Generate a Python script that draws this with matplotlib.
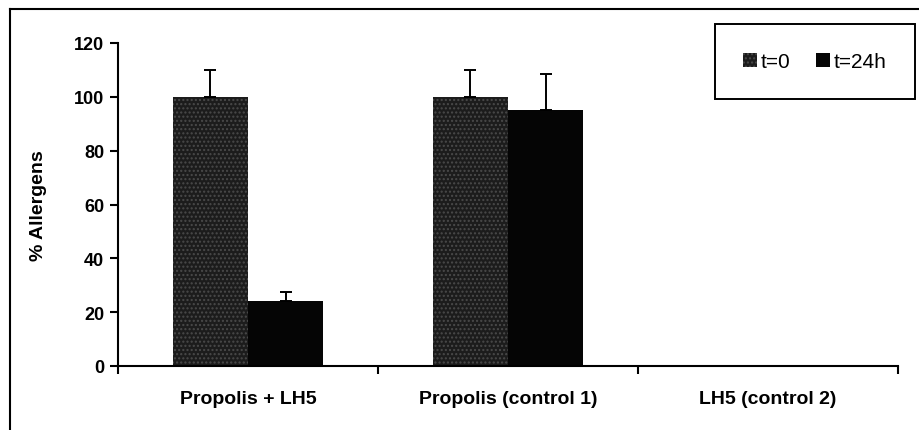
import numpy as np
import matplotlib.pyplot as plt
from matplotlib.lines import Line2D

plt.rcParams['font.family'] = ['Liberation Sans', 'DejaVu Sans']

categories = ['Propolis + LH5', 'Propolis (control 1)', 'LH5 (control 2)']
t0_values = [100, 100, 0]
t0_errors = [10, 10, 0]
t24_values = [24, 95, 0]
t24_errors = [3.5, 13.5, 0]
y_ticks = [0, 20, 40, 60, 80, 100, 120]

fig = plt.figure(figsize=(9.19, 4.31), dpi=100)
ax = fig.add_axes([118 / 919, 64 / 431, 780 / 919, 323 / 431])

x = np.arange(len(categories))
w = 0.29
has = np.array(t0_values) > 0
ax.bar(x[has] - w / 2, np.array(t0_values)[has], w, color='#1c1c1c',
       edgecolor='#4a4a4a', hatch='....', lw=0, label='t=0', zorder=2)
ax.bar(x[has] + w / 2, np.array(t24_values)[has], w, color='#050505',
       lw=0, label='t=24h', zorder=2)
ax.errorbar(x[has] - w / 2, np.array(t0_values)[has],
            yerr=[np.zeros(has.sum()), np.array(t0_errors)[has]],
            fmt='none', ecolor='black', elinewidth=1.4, capsize=4, capthick=1.4, zorder=3)
ax.errorbar(x[has] + w / 2, np.array(t24_values)[has],
            yerr=[np.zeros(has.sum()), np.array(t24_errors)[has]],
            fmt='none', ecolor='black', elinewidth=1.4, capsize=4, capthick=1.4, zorder=3)

ax.set_xlim(-0.5, len(categories) - 0.5)
ax.set_ylim(0, 120)
ax.set_yticks(y_ticks)
ax.set_yticklabels([str(v) for v in y_ticks], fontsize=13, fontweight='bold')
ax.set_xticks(np.arange(len(categories) + 1) - 0.5)
ax.set_xticklabels([])
ax.set_xticks(x, minor=True)
ax.set_xticklabels(categories, minor=True, fontsize=14, fontweight='bold')
ax.tick_params(axis='x', which='minor', length=0, pad=17)
ax.tick_params(axis='x', which='major', length=6, width=1.5, direction='out')
ax.tick_params(axis='y', length=6, width=1.5, direction='out', pad=4)
for side in ['top', 'right']:
    ax.spines[side].set_visible(False)
for side in ['left', 'bottom']:
    ax.spines[side].set_linewidth(1.5)
ax.set_ylabel('% Allergens', fontsize=14, fontweight='bold', labelpad=19)

# legend box at the top right, cut by the picture edge
leg = fig.legend(loc='upper left', bbox_to_anchor=(715 / 919, 1 - 25 / 431, 200 / 919, 0),
                 mode='expand', ncol=2, fontsize=15, frameon=True, fancybox=False,
                 edgecolor='black', framealpha=1, borderpad=1.35,
                 handlelength=0.65, handleheight=0.65, handletextpad=0.2,
                 columnspacing=1.0, borderaxespad=0)
leg.get_frame().set_linewidth(1.4)

# outer frame of the scanned chart
fig.add_artist(Line2D([10 / 919, 1.0], [1 - 10 / 431] * 2, color='black', lw=1.5))
fig.add_artist(Line2D([10 / 919] * 2, [0.0, 1 - 10 / 431], color='black', lw=1.5))

plt.savefig('out.png', dpi=100)
